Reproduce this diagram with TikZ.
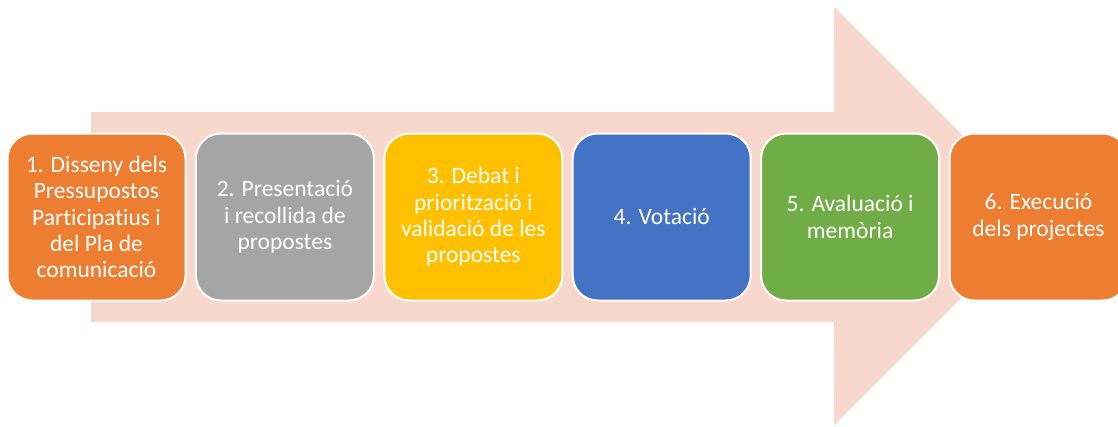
\documentclass[tikz,border=0pt]{standalone}
\usepackage{fontspec}
\setmainfont[Ligatures={NoCommon,NoContextual}]{Carlito}
\definecolor{arrowpink}{HTML}{F8D8CD}
\definecolor{cOrange}{HTML}{ED7D31}
\definecolor{cGray}{HTML}{A5A5A5}
\definecolor{cYellow}{HTML}{FFC000}
\definecolor{cBlue}{HTML}{4472C4}
\definecolor{cGreen}{HTML}{70AD47}
\begin{document}
\begin{tikzpicture}[x=1pt,y=-1pt,
  stagebox/.style={draw=white, line width=2pt, rounded corners=25pt,
    minimum width=178pt, minimum height=167pt, text=white, align=center,
    font=\fontsize{23.5pt}{26.2pt}\selectfont, inner sep=0pt}]
\useasboundingbox (0,0) rectangle (1118,426);
\clip (0,0) rectangle (1118,426);
\fill[arrowpink] (91,112) -- (834,112) -- (834,7) -- (1043,216) -- (834,425) -- (834,322) -- (91,322) -- cycle;
\node[stagebox, fill=cOrange] (s1) at (96.5,217) {1. Disseny dels\\Pressupostos\\Participatius i\\del Pla de\\comunicació};
\node[stagebox, fill=cGray] (s2) at (284.9,217) {2. Presentació\\i recollida de\\propostes};
\node[stagebox, fill=cYellow] (s3) at (473.3,217) {3. Debat i\\priorització i\\validació de les\\propostes};
\node[stagebox, fill=cBlue] (s4) at (661.7,217) {4. Votació};
\node[stagebox, fill=cGreen] (s5) at (850.1,217) {5. Avaluació i\\memòria};
\node[stagebox, fill=cOrange] (s6) at (1038.5,217) {6. Execució\\dels projectes};
\end{tikzpicture}
\end{document}
